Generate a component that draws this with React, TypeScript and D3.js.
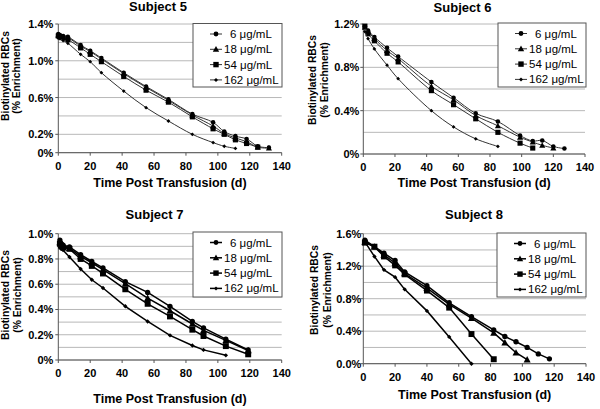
import React from "react";
import * as d3 from "d3";

const SERIES_LABELS = ["6", "18", "54", "162"];
const X_TICKS = [0, 20, 40, 60, 80, 100, 120, 140];

const S5_DAYS = [0, 1, 3, 6, 14, 20, 27, 41, 55, 69, 84, 97, 104, 111, 118, 125, 132];
const S5_6 = [1.29, 1.28, 1.27, 1.26, 1.17, 1.11, 1.03, 0.87, 0.72, 0.58, 0.42, 0.33, 0.23, 0.18, 0.15, 0.07, 0.055];
const S5_18 = [1.28, 1.27, 1.26, 1.25, 1.16, 1.1, 1.02, 0.86, 0.71, 0.57, 0.41, 0.29, 0.21, 0.16, 0.12, 0.06, 0.05];
const S5_54 = [1.27, 1.26, 1.25, 1.23, 1.14, 1.07, 0.99, 0.83, 0.68, 0.55, 0.39, 0.26, 0.2, 0.14, 0.1, 0.06, null];
const S5_162 = [1.25, 1.24, 1.22, 1.19, 1.07, 0.99, 0.87, 0.67, 0.49, 0.345, 0.2, 0.11, 0.07, 0.047, null, null, null];

const S6_DAYS = [1, 3, 7, 15, 22, 43, 57, 71, 85, 99, 107, 113, 120, 127];
const S6_6 = [1.18, 1.14, 1.08, 0.98, 0.9, 0.665, 0.52, 0.375, 0.3, 0.17, 0.12, 0.125, 0.07, 0.05];
const S6_18 = [1.17, 1.13, 1.065, 0.955, 0.88, 0.625, 0.5, 0.355, 0.26, 0.155, 0.11, 0.08, 0.055, null];
const S6_54 = [1.18, 1.11, 1.045, 0.93, 0.85, 0.585, 0.455, 0.325, 0.2, 0.1, 0.055, null, null, null];
const S6_162 = [1.13, 1.065, 0.97, 0.82, 0.695, 0.4, 0.25, 0.14, 0.07, null, null, null, null, null];

const S7_DAYS = [1, 2, 3, 7, 14, 21, 28, 42, 56, 70, 84, 91, 105, 119];
const S7_6 = [0.95, 0.92, 0.91, 0.895, 0.835, 0.78, 0.73, 0.62, 0.535, 0.425, 0.305, 0.255, 0.165, 0.08];
const S7_18 = [0.93, 0.91, 0.9, 0.885, 0.82, 0.77, 0.715, 0.605, 0.49, 0.39, 0.285, 0.235, 0.155, 0.075];
const S7_54 = [0.92, 0.9, 0.89, 0.88, 0.8, 0.745, 0.685, 0.56, 0.445, 0.345, 0.24, 0.19, 0.11, 0.045];
const S7_162 = [0.89, 0.88, 0.87, 0.815, 0.72, 0.635, 0.57, 0.425, 0.305, 0.195, 0.115, 0.08, 0.037, null];

const S8_DAYS = [1, 7, 13, 20, 26, 40, 54, 68, 82, 89, 96, 103, 110, 117];
const S8_6 = [1.52, 1.44, 1.36, 1.27, 1.13, 0.96, 0.75, 0.58, 0.415, 0.335, 0.27, 0.2, 0.12, 0.06];
const S8_18 = [1.5, 1.44, 1.34, 1.24, 1.11, 0.93, 0.73, 0.56, 0.38, 0.26, 0.135, 0.05, null, null];
const S8_54 = [1.49, 1.44, 1.32, 1.21, 1.1, 0.9, 0.69, 0.365, 0.055, null, null, null, null, null];
const S8_162 = [1.5, 1.32, 1.155, 1.065, 0.915, 0.65, 0.33, 0.0, null, null, null, null, null, null];

const S5_YLABELS = [0, 0.2, 0.6, 1.0, 1.4];
const S6_YLABELS = [0, 0.4, 0.8, 1.2];
const S7_YLABELS = [0, 0.2, 0.4, 0.6, 0.8, 1.0];
const S8_YLABELS = [0, 0.4, 0.8, 1.2, 1.6];

type Panel = {
  title: string;
  days: number[];
  series: (number | null)[][];
  yMax: number;
  gridStep: number;
  yLabels: number[];
  fmt: (v: number) => string;
  box: { x0: number; x1: number; y0: number; y1: number };
  titleX: number;
  titleY: number;
  xTitleY: number;
  yt: { x1: number; x2: number; cy: number };
  labGap: number;
  legend: { x: number; y: number; w: number; h: number };
  stroke: string;
  sw: number;
  mk: number;
};

const fmtA = (v: number) => (v === 0 ? "0%" : v.toFixed(1) + "%");
const fmtB = (v: number) => v.toFixed(1) + "%";

const PANELS: Panel[] = [
  {
    title: "Subject 5", days: S5_DAYS, series: [S5_6, S5_18, S5_54, S5_162], yMax: 1.4, gridStep: 0.2,
    yLabels: S5_YLABELS, fmt: fmtA, box: { x0: 58.3, x1: 281.7, y0: 24, y1: 152.7 },
    titleX: 158, titleY: 11, xTitleY: 187, yt: { x1: 8.5, x2: 19.5, cy: 76 }, labGap: 5,
    legend: { x: 193, y: 23.5, w: 89, h: 63.5 }, stroke: "#333", sw: 1, mk: 0.95,
  },
  {
    title: "Subject 6", days: S6_DAYS, series: [S6_6, S6_18, S6_54, S6_162], yMax: 1.2, gridStep: 0.2,
    yLabels: S6_YLABELS, fmt: fmtA, box: { x0: 363.3, x1: 585, y0: 24, y1: 154 },
    titleX: 462.5, titleY: 11.5, xTitleY: 187, yt: { x1: 316, x2: 328, cy: 80 }, labGap: 4,
    legend: { x: 498, y: 23, w: 88, h: 64 }, stroke: "#333", sw: 1, mk: 0.95,
  },
  {
    title: "Subject 7", days: S7_DAYS, series: [S7_6, S7_18, S7_54, S7_162], yMax: 1.0, gridStep: 0.1,
    yLabels: S7_YLABELS, fmt: fmtA, box: { x0: 58.3, x1: 281.7, y0: 233.7, y1: 360 },
    titleX: 154.5, titleY: 218.5, xTitleY: 403, yt: { x1: 8.5, x2: 20.5, cy: 295 }, labGap: 5,
    legend: { x: 193, y: 232, w: 89, h: 65 }, stroke: "#000", sw: 1.5, mk: 1.1,
  },
  {
    title: "Subject 8", days: S8_DAYS, series: [S8_6, S8_18, S8_54, S8_162], yMax: 1.6, gridStep: 0.2,
    yLabels: S8_YLABELS, fmt: fmtB, box: { x0: 363.3, x1: 586, y0: 233.7, y1: 363.7 },
    titleX: 474, titleY: 218.5, xTitleY: 399, yt: { x1: 318, x2: 331, cy: 290 }, labGap: 2,
    legend: { x: 497, y: 233, w: 89, h: 64 }, stroke: "#000", sw: 1.5, mk: 1.1,
  },
];

function Marker({ kind, x, y, s = 1 }: { kind: number; x: number; y: number; s?: number }) {
  if (kind === 0) return <circle cx={x} cy={y} r={2.4 * s} fill="#000" />;
  if (kind === 1) {
    const t = 3.2 * s;
    return <path d={`M${x},${y - t} L${x + t},${y + t * 0.8} L${x - t},${y + t * 0.8} Z`} fill="#000" />;
  }
  if (kind === 2) return <rect x={x - 2.7 * s} y={y - 2.7 * s} width={5.4 * s} height={5.4 * s} fill="#000" />;
  const r = 2 * s;
  return <path d={`M${x},${y - r} L${x + r},${y} L${x},${y + r} L${x - r},${y} Z`} fill="#000" />;
}

function PanelView({ p }: { p: Panel }) {
  const { box } = p;
  const x = d3.scaleLinear().domain([0, 140]).range([box.x0, box.x1]);
  const y = d3.scaleLinear().domain([0, p.yMax]).range([box.y1, box.y0]);
  const grid = d3.range(0, p.yMax + 1e-9, p.gridStep);
  const cx = (box.x0 + box.x1) / 2;
  const line = d3
    .line<[number, number | null]>()
    .defined((d) => d[1] !== null)
    .x((d) => x(d[0]))
    .y((d) => y(d[1] as number))
    .curve(p.sw > 1 ? d3.curveLinear : d3.curveCatmullRom.alpha(0.5));
  const font = "Arial, 'Liberation Sans', sans-serif";
  const lg = p.legend;
  return (
    <g fontFamily={font}>
      <text x={p.titleX} y={p.titleY} textAnchor="middle" fontSize={13} fontWeight="bold">
        {p.title}
      </text>
      {grid.map((g, i) => (
        <line key={i} x1={box.x0} x2={box.x1} y1={y(g)} y2={y(g)} stroke="#b8b8b8" strokeWidth={1} />
      ))}
      <line x1={box.x0} x2={box.x0} y1={box.y0} y2={box.y1} stroke="#555" />
      <line x1={box.x0} x2={box.x1} y1={box.y1} y2={box.y1} stroke="#555" />
      {p.yLabels.map((v, i) => (
        <g key={i}>
          <line x1={box.x0 - 3} x2={box.x0} y1={y(v)} y2={y(v)} stroke="#555" />
          <text x={box.x0 - p.labGap} y={y(v) + 4} textAnchor="end" fontSize={11} fontWeight="bold">
            {p.fmt(v)}
          </text>
        </g>
      ))}
      {X_TICKS.map((t, i) => (
        <g key={i}>
          <line x1={x(t)} x2={x(t)} y1={box.y1} y2={box.y1 + 3} stroke="#555" />
          <text x={x(t)} y={box.y1 + 17} textAnchor="middle" fontSize={11} fontWeight="bold">
            {t}
          </text>
        </g>
      ))}
      <text x={cx} y={p.xTitleY} textAnchor="middle" fontSize={12.5} fontWeight="bold">
        Time Post Transfusion (d)
      </text>
      <text transform={`translate(${p.yt.x1},${p.yt.cy}) rotate(-90)`} textAnchor="middle" fontSize={10.3} fontWeight="bold">
        Biotinylated RBCs
      </text>
      <text transform={`translate(${p.yt.x2},${p.yt.cy}) rotate(-90)`} textAnchor="middle" fontSize={10.3} fontWeight="bold">
        (% Enrichment)
      </text>
      {p.series.map((s, k) => {
        const pts: [number, number | null][] = p.days.map((d, i) => [d, s[i]]);
        return (
          <g key={k}>
            <path d={line(pts) || ""} fill="none" stroke={p.stroke} strokeWidth={p.sw} />
            {pts.filter((d) => d[1] !== null).map((d, i) => (
              <Marker key={i} kind={k} x={x(d[0])} y={y(d[1] as number)} s={p.mk} />
            ))}
          </g>
        );
      })}
      <rect x={lg.x} y={lg.y} width={lg.w} height={lg.h} fill="#fff" stroke="#555" />
      {SERIES_LABELS.map((lab, k) => {
        const ry = lg.y + 10.5 + k * 15.3;
        return (
          <g key={k}>
            <line x1={lg.x + 17} x2={lg.x + 29} y1={ry} y2={ry} stroke={p.stroke} strokeWidth={p.sw} />
            <Marker kind={k} x={lg.x + 23} y={ry} />
            <text x={lg.x + 31 + (lab.length === 1 ? 6 : 0)} y={ry + 4} fontSize={11.5}>
              {lab} {"\u03bcg/mL"}
            </text>
          </g>
        );
      })}
    </g>
  );
}

export default function App() {
  return (
    <svg width={600} height={409} style={{ position: "absolute", left: 0, top: 0, background: "#fff" }}>
      <rect x={0} y={0} width={600} height={409} fill="#fff" />
      {PANELS.map((p, i) => (
        <PanelView key={i} p={p} />
      ))}
    </svg>
  );
}
